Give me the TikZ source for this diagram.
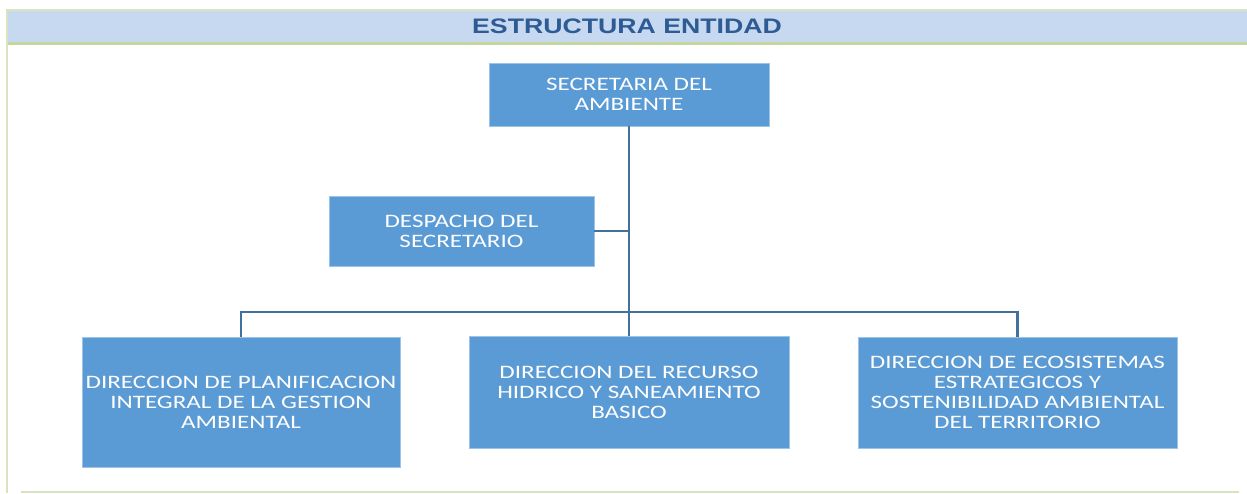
\documentclass[tikz,border=0pt]{standalone}
\usepackage{fontspec}
\setmainfont{Carlito}
\newfontfamily\boxfont[FakeStretch=1.32]{Carlito}
\newfontfamily\titlefont[FakeStretch=1.27]{Liberation Sans}
\definecolor{boxblue}{HTML}{5B9BD5}
\definecolor{lineblue}{HTML}{41719C}
\definecolor{bandblue}{HTML}{C6D9F0}
\definecolor{lightgreen}{HTML}{D7E4BD}
\definecolor{midgreen}{HTML}{C3D69B}
\definecolor{titleblue}{HTML}{2F5B94}
\tikzset{
  orgbox/.style={rectangle, fill=boxblue, draw=boxblue!60!white, line width=0.6pt, text=white, align=center,
    font=\boxfont\fontsize{19}{20}\selectfont, inner sep=0pt},
  conn/.style={draw=lineblue, line width=2.2pt},
  mainconn/.style={draw=lineblue, line width=2.8pt},
}
\begin{document}
\begin{tikzpicture}[x=1pt, y=-1pt]
\useasboundingbox (0,0) rectangle (1247,493);
% header band
\fill[bandblue] (7,11) rectangle (1247,42);
\fill[lightgreen] (7,9) rectangle (1247,11);
\fill[midgreen] (7,42) rectangle (1247,45);
\fill[lightgreen] (6,9) rectangle (8,493);
\fill[lightgreen] (21,490.5) rectangle (1239,493);
\node[font=\titlefont\bfseries\fontsize{21}{24}\selectfont, text=titleblue] (title) at (627,26) {ESTRUCTURA ENTIDAD};
% boxes
\node[orgbox, minimum width=280pt, minimum height=63pt] (sec) at (629,94.5) {SECRETARIA DEL\\AMBIENTE};
\node[orgbox, minimum width=265pt, minimum height=70pt] (desp) at (461.5,231) {DESPACHO DEL\\SECRETARIO};
\node[orgbox, minimum width=318pt, minimum height=130pt] (left) at (241,402) {DIRECCION DE PLANIFICACION\\INTEGRAL DE LA GESTION\\AMBIENTAL};
\node[orgbox, minimum width=320pt, minimum height=112pt] (mid) at (629,392) {DIRECCION DEL RECURSO\\HIDRICO Y SANEAMIENTO\\BASICO};
\node[orgbox, minimum width=319pt, minimum height=111pt] (right) at (1017.5,392.5) {DIRECCION DE ECOSISTEMAS\\ESTRATEGICOS Y\\SOSTENIBILIDAD AMBIENTAL\\DEL TERRITORIO};
% connectors
\coordinate (bus) at (629,312);
\draw[mainconn] (sec.south) -- (mid.north);
\draw[conn] (desp.east) -- (desp.east -| sec.south);
\draw[conn] (left.north) |- (bus) -| (right.north);
\end{tikzpicture}
\end{document}
